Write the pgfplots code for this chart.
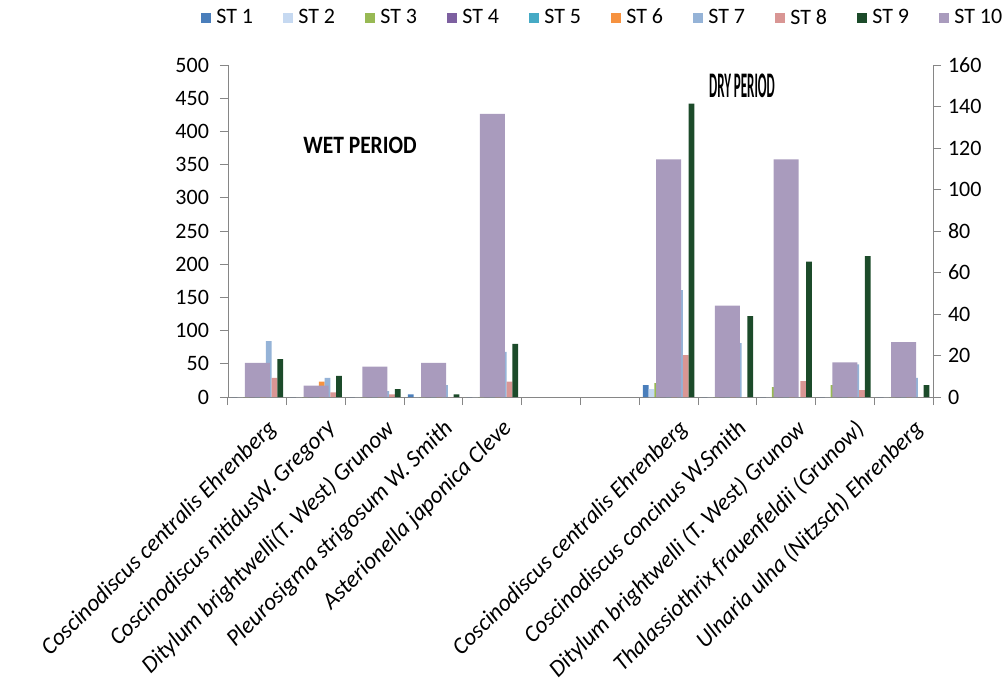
\documentclass[border=0pt]{standalone}
\usepackage{pgfplots}
\pgfplotsset{compat=1.18}
\usepackage{pgfplotstable}
\usepackage{fontspec}
\setmainfont{Carlito}

\definecolor{st1}{HTML}{4A7EBB}
\definecolor{st2}{HTML}{C6D9F1}
\definecolor{st3}{HTML}{98B954}
\definecolor{st4}{HTML}{7D60A0}
\definecolor{st5}{HTML}{46AAC5}
\definecolor{st6}{HTML}{F69240}
\definecolor{st7}{HTML}{95B3D7}
\definecolor{st8}{HTML}{D99694}
\definecolor{st9}{HTML}{1C4B2A}
\definecolor{st10}{HTML}{A99BBD}
\definecolor{axisgray}{HTML}{868686}

% ST 1..ST 9 on the left axis, ST 10 on the right axis
\pgfplotstableread{
x  st1 st2 st3 st4 st5 st6 st7 st8  st9 st10
0  0   0   0   0   0   0   84  29   57  16.5
1  0   0   0   0   0   23  29  7    32  5.5
2  0   0   0   0   0   0   9   4    12  14.7
3  4   0   0   0   0   0   18  0    4   16.5
4  0   0   0   0   0   0   68  23   80  136.5
7  18  12  21  0   0   0   161 63   442 114.5
8  0   0   0   0   0   0   81  0    122 44
9  0   0   15  0   0   0   0   24   204 114.5
10 0   0   18  0   0   0   49  10.5 212 16.7
11 0   0   0   0   0   0   29  0    18  26.4
}\data

\pgfplotsset{
  base/.style={
    width=352.5pt, height=166pt, scale only axis,
    xmin=-0.5, xmax=11.5, ymin=0,
    axis line style={draw=axisgray},
    tick style={draw=axisgray, line width=0.5pt},
    tick align=outside, major tick length=4pt,
    tick label style={font=\fontsize{11}{13}\selectfont, text=black},
    /pgf/number format/assume math mode=true,
    clip=false,
  },
  thin/.style={ybar, bar width=2.85pt, draw=none, forget plot},
}

\begin{document}
\begin{tikzpicture}
\useasboundingbox (-114pt,-150.5pt) rectangle (389pt,198.5pt);
\begin{axis}[base,
  ymax=500, ytick={0,50,...,500},
  axis x line*=bottom, axis y line*=left,
  yticklabel style={xshift=-2pt},
  xtick={-0.5,0.5,...,11.5},
  x tick label as interval,
  xticklabels={Coscinodiscus centralis Ehrenberg,
    Coscinodiscus nitidusW. Gregory,
    Ditylum brightwelli(T. West) Grunow,
    Pleurosigma strigosum W. Smith,
    Asterionella japonica Cleve,
    {},{},
    Coscinodiscus centralis Ehrenberg,
    Coscinodiscus concinus W.Smith,
    Ditylum brightwelli (T. West) Grunow,
    Thalassiothrix frauenfeldii (Grunow),
    Ulnaria ulna (Nitzsch) Ehrenberg},
  xticklabel style={rotate=45, anchor=north east, yshift=-4pt, xshift=2pt,
    font=\itshape\fontsize{11.8}{13}\selectfont},
  legend image code/.code={\fill[#1] (0pt,-2.5pt) rectangle (5pt,2.5pt);},
  legend style={at={(0.521,1.1416)}, anchor=center, draw=none, fill=none,
    legend columns=10, column sep=0pt,
    font=\fontsize{11}{13}\selectfont,
    nodes={inner xsep=0pt, inner ysep=1pt}},
]
\addplot[thin, fill=st1, bar shift=-11.4pt] table[x=x, y=st1] {\data};
\addplot[thin, fill=st2, bar shift=-8.55pt] table[x=x, y=st2] {\data};
\addplot[thin, fill=st3, bar shift=-5.7pt]  table[x=x, y=st3] {\data};
\addplot[thin, fill=st4, bar shift=-2.85pt] table[x=x, y=st4] {\data};
\addplot[thin, fill=st5, bar shift=0pt]     table[x=x, y=st5] {\data};
\addplot[thin, fill=st6, bar shift=2.85pt]  table[x=x, y=st6] {\data};
\addplot[thin, fill=st7, bar shift=5.7pt]   table[x=x, y=st7] {\data};
\addplot[thin, fill=st8, bar shift=8.55pt]  table[x=x, y=st8] {\data};
\addplot[thin, fill=st9, bar shift=11.4pt]  table[x=x, y=st9] {\data};
\addlegendimage{fill=st1, draw=none}\addlegendentry{\makebox[36pt][l]{\hspace{2.5pt}ST 1}}
\addlegendimage{fill=st2, draw=none}\addlegendentry{\makebox[36pt][l]{\hspace{2.5pt}ST 2}}
\addlegendimage{fill=st3, draw=none}\addlegendentry{\makebox[36pt][l]{\hspace{2.5pt}ST 3}}
\addlegendimage{fill=st4, draw=none}\addlegendentry{\makebox[36pt][l]{\hspace{2.5pt}ST 4}}
\addlegendimage{fill=st5, draw=none}\addlegendentry{\makebox[36pt][l]{\hspace{2.5pt}ST 5}}
\addlegendimage{fill=st6, draw=none}\addlegendentry{\makebox[36pt][l]{\hspace{2.5pt}ST 6}}
\addlegendimage{fill=st7, draw=none}\addlegendentry{\makebox[36pt][l]{\hspace{2.5pt}ST 7}}
\addlegendimage{fill=st8, draw=none}\addlegendentry{\makebox[36pt][l]{\hspace{2.5pt}ST 8}}
\addlegendimage{fill=st9, draw=none}\addlegendentry{\makebox[36pt][l]{\hspace{2.5pt}ST 9}}
\addlegendimage{fill=st10, draw=none}\addlegendentry{\makebox[20pt][l]{\hspace{2.5pt}ST 10}}
\node[font=\bfseries\fontsize{12.5}{14}\selectfont] at (axis cs:1.747,379.5) {\scalebox{0.86}[1]{WET PERIOD}};
\node[font=\bfseries\fontsize{18}{20}\selectfont] at (axis cs:8.249,468) {\scalebox{0.36}[1]{DRY PERIOD}};
\end{axis}
\begin{axis}[base,
  ymax=160, ytick={0,20,...,160},
  axis y line*=right, hide x axis,
]
\addplot[ybar, bar width=12.5pt, bar shift=0pt, fill=st10, draw=none] table[x=x, y=st10] {\data};
\end{axis}
\end{tikzpicture}
\end{document}
